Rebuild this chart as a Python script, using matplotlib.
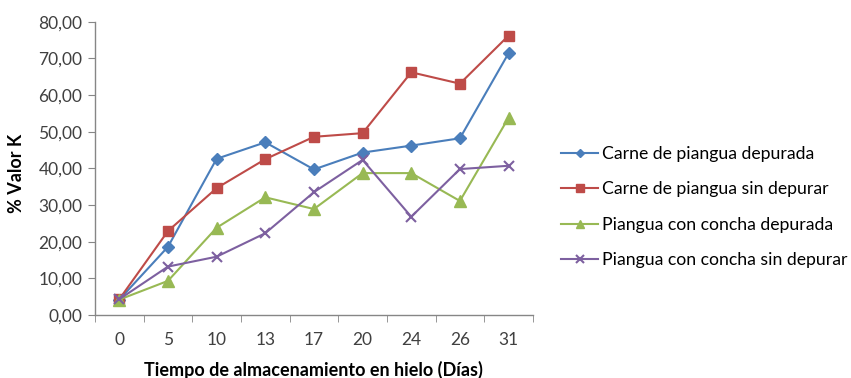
import matplotlib
matplotlib.use("Agg")
import matplotlib.pyplot as plt
from matplotlib.ticker import FixedLocator, FuncFormatter

plt.rcParams['font.family'] = ['Lato', 'DejaVu Sans']

dias = ["0", "5", "10", "13", "17", "20", "24", "26", "31"]
carne_depurada = [4.2, 18.6, 42.6, 47.1, 39.7, 44.3, 46.2, 48.2, 71.4]
carne_sin_depurar = [4.3, 22.9, 34.6, 42.5, 48.6, 49.6, 66.2, 63.1, 76.2]
concha_depurada = [4.2, 9.3, 23.8, 32.1, 28.9, 38.7, 38.7, 31.1, 53.8]
concha_sin_depurar = [4.3, 13.2, 15.9, 22.3, 33.5, 42.3, 26.8, 39.8, 40.7]

series = [
    ("Carne de piangua depurada", carne_depurada, "#4A7EBB", "D", 6),
    ("Carne de piangua sin depurar", carne_sin_depurar, "#BE4B48", "s", 7.5),
    ("Piangua con concha depurada", concha_depurada, "#98B954", "^", 8),
    ("Piangua con concha sin depurar", concha_sin_depurar, "#7D60A0", "x", 7.5),
]

fig = plt.figure(figsize=(8.51, 3.78), dpi=100)
ax = fig.add_axes([0.1116, 0.1667, 0.6262 - 0.1116, 0.9426 - 0.1667])

x = list(range(len(dias)))
for label, vals, color, marker, ms in series:
    kw = dict(markeredgecolor=color, markerfacecolor=color)
    if marker == "x":
        kw["markeredgewidth"] = 1.5
    ax.plot(x, vals, color=color, lw=1.5, marker=marker, markersize=ms,
            label=label, **kw)

ax.set_xlim(-0.5, len(dias) - 0.5)
ax.set_ylim(0, 80)
ax.set_yticks(range(0, 81, 10))
ax.yaxis.set_major_formatter(FuncFormatter(lambda v, p: f"{v:.2f}".replace(".", ",")))

ax.set_xticks(x)
ax.set_xticklabels(dias)
ax.xaxis.set_minor_locator(FixedLocator([i - 0.5 for i in range(len(dias) + 1)]))
ax.tick_params(axis="x", which="major", length=0, pad=12, labelsize=12.5, labelcolor="#404040")
ax.tick_params(axis="x", which="minor", length=5, color="#868686", direction="out")
ax.tick_params(axis="y", length=5, color="#868686", direction="out", labelsize=12.5,
               labelcolor="#404040", pad=4)

for side in ("top", "right"):
    ax.spines[side].set_visible(False)
for side in ("left", "bottom"):
    ax.spines[side].set_color("#868686")
    ax.spines[side].set_linewidth(1.0)

ax.set_ylabel("% Valor K", fontsize=13, fontweight="bold")
ax.yaxis.label.set_verticalalignment("center")
ax.yaxis.set_label_coords(16 / 851, 1 - 173 / 378, transform=fig.transFigure)
ax.set_xlabel("Tiempo de almacenamiento en hielo (Días)", fontsize=13,
              fontweight="bold")
ax.xaxis.set_label_coords(313 / 851, 1 - 370 / 378, transform=fig.transFigure)
ax.xaxis.label.set_verticalalignment("center")

fig.legend(loc="center left", bbox_to_anchor=(561 / 851, 1 - 207 / 378), frameon=False,
           fontsize=12.7, handlelength=2.1, labelspacing=1.1, handletextpad=0.2,
           markerscale=0.7, borderaxespad=0, borderpad=0)

fig.savefig("out.png", dpi=100)
